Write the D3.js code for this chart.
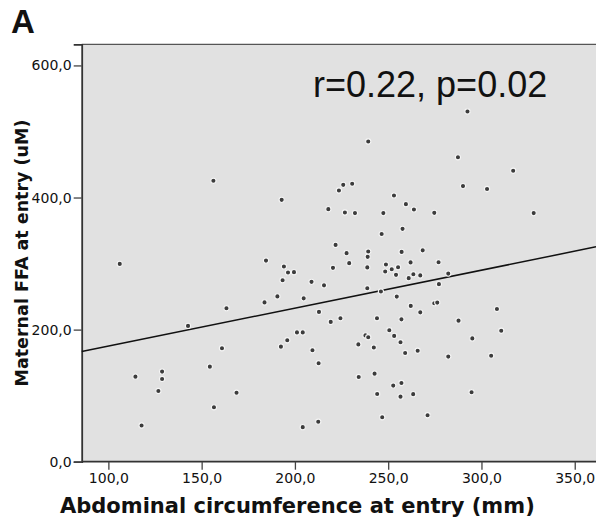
<!DOCTYPE html>
<html>
<head>
<meta charset="utf-8">
<script src="https://cdn.jsdelivr.net/npm/d3@7"></script>
<style>
  html, body { margin: 0; padding: 0; background: #fff; }
  svg { display: block; }
</style>
</head>
<body>
<div id="chart"></div>
<script>
// abdominal circumference (mm) vs maternal FFA (uM)
const acMm = [
  156.3, 192.9, 106.1, 184.5, 190.6, 183.7, 163.3, 142.7, 192.5, 160.9,
  154.4, 128.8, 128.8, 114.5, 126.8, 168.7, 156.6, 117.8, 230.7, 225.9,
  223.6, 217.9, 226.8, 232.2, 221.8, 227.7, 239.3, 239.0, 229.1, 220.4,
  238.8, 194.1, 196.3, 199.5, 193.4, 208.9, 215.6, 238.8, 204.7, 290.1,
  253.1, 259.5, 263.8, 247.4, 274.7, 257.7, 246.5, 257.2, 268.5, 262.0,
  277.0, 248.8, 251.9, 248.4, 255.3, 254.2, 263.5, 267.2, 261.0, 282.2,
  277.2, 254.6, 246.1, 212.9, 224.4, 219.2, 201.1, 204.2, 195.9, 237.8,
  239.3, 234.0, 242.3, 209.4, 212.7, 234.2, 242.7, 244.1, 212.5, 204.2,
  262.1, 274.7, 276.3, 267.2, 257.1, 287.7, 250.6, 253.2, 256.6, 295.1,
  259.1, 265.8, 282.2, 252.7, 257.1, 256.6, 263.4, 294.7, 246.8, 271.1,
  292.5, 239.3, 287.4, 317.0, 303.0, 328.0, 308.3, 310.6, 305.2, 244.0
];
const ffaUm = [
  425.3, 396.5, 299.5, 304.5, 250.3, 241.2, 232.4, 205.6, 174.2, 171.8,
  143.9, 136.4, 125.3, 128.8, 107.1, 104.5, 82.4, 54.8, 420.8, 419.2,
  410.6, 382.4, 377.3, 376.4, 328.3, 315.8, 318.2, 310.2, 300.6, 293.5,
  294.2, 295.5, 286.4, 287.0, 274.8, 272.3, 267.0, 262.7, 247.3, 417.3,
  403.0, 390.0, 381.8, 376.4, 376.8, 352.6, 344.7, 317.7, 320.0, 301.8,
  302.1, 298.5, 291.5, 287.9, 294.5, 282.9, 283.9, 282.1, 277.9, 284.8,
  268.8, 250.0, 257.6, 226.8, 217.3, 211.7, 195.8, 195.8, 183.9, 191.2,
  188.5, 177.6, 173.0, 168.8, 149.1, 128.3, 133.3, 102.6, 60.6, 52.3,
  235.9, 240.0, 240.9, 226.1, 215.5, 213.6, 199.1, 190.5, 180.9, 186.7,
  164.7, 168.0, 159.1, 115.2, 119.2, 98.5, 102.3, 105.2, 67.3, 70.3,
  530.3, 484.8, 460.9, 440.5, 412.9, 376.4, 231.1, 198.3, 160.5, 217.3
];

const xTicks = [100, 150, 200, 250, 300, 350];
const yTicks = [0, 200, 400, 600];
const fitLine = { intercept: 117.5, slope: 0.575 };
const statText = "r=0.22, p=0.02";

const W = 596, H = 521;
const x = d3.scaleLinear().domain([85.7, 361.4]).range([81.7, 596]);
const y = d3.scaleLinear().domain([0, 632]).range([461.7, 44.3]);
const fmt = v => d3.format(".1f")(v).replace(".", ",");

const svg = d3.select("#chart").append("svg").attr("width", W).attr("height", H);

// plot background
svg.append("rect")
  .attr("x", x(85.7)).attr("y", y(632))
  .attr("width", 600 - x(85.7)).attr("height", y(0) - y(632))
  .attr("fill", "#e1e1e1");

// top frame line
svg.append("line")
  .attr("x1", x(85.7)).attr("x2", 600)
  .attr("y1", y(632)).attr("y2", y(632))
  .attr("stroke", "#555").attr("stroke-width", 1.3);

// axes
const xAxis = d3.axisBottom(x).tickValues(xTicks).tickFormat(fmt).tickSize(8).tickPadding(3);
const yAxis = d3.axisLeft(y).tickValues(yTicks).tickFormat(fmt).tickSize(8).tickPadding(2);

const gx = svg.append("g").attr("transform", `translate(0,${y(0)})`).call(xAxis);
const gy = svg.append("g").attr("transform", `translate(${x(85.7)},0)`).call(yAxis);
[gx, gy].forEach(g => {
  g.select(".domain").attr("stroke", "#333").attr("stroke-width", 1.8);
  g.selectAll(".tick line").attr("stroke", "#444").attr("stroke-width", 1.3);
  g.selectAll(".tick text")
    .attr("fill", "#111")
    .style("font-family", "'DejaVu Sans', sans-serif")
    .style("font-size", "14px");
});
gx.select(".domain").attr("d", `M${x(85.7)},0H600`);

// regression line
svg.append("line")
  .attr("x1", x(85.7)).attr("y1", y(fitLine.intercept + fitLine.slope * 85.7))
  .attr("x2", x(361.4)).attr("y2", y(fitLine.intercept + fitLine.slope * 361.4))
  .attr("stroke", "#111").attr("stroke-width", 1.5);

// points
svg.append("g").selectAll("circle")
  .data(acMm.map((v, i) => [v, ffaUm[i]]))
  .join("circle")
  .attr("cx", d => x(d[0])).attr("cy", d => y(d[1]))
  .attr("r", 2.6)
  .attr("fill", "#3c3c3c")
  .attr("stroke", "#f6f6f6").attr("stroke-width", 1.1);

// annotation
svg.append("text")
  .attr("x", 313).attr("y", 97)
  .style("font-family", "'Liberation Sans', Arial, sans-serif")
  .style("font-size", "36px")
  .attr("fill", "#111")
  .text(statText);

// panel letter
svg.append("text")
  .attr("x", 11).attr("y", 33)
  .style("font-family", "'Liberation Sans', Arial, sans-serif")
  .style("font-size", "33px").style("font-weight", "bold")
  .attr("fill", "#111")
  .text("A");

// axis titles
svg.append("text")
  .attr("x", 60).attr("y", 513)
  .style("font-family", "'DejaVu Sans', sans-serif")
  .style("font-size", "21px").style("font-weight", "bold")
  .attr("fill", "#111")
  .text("Abdominal circumference at entry (mm)");

svg.append("text")
  .attr("transform", "translate(28,253) rotate(-90)")
  .attr("text-anchor", "middle")
  .style("font-family", "'DejaVu Sans', sans-serif")
  .style("font-size", "17.5px").style("font-weight", "bold")
  .attr("fill", "#111")
  .text("Maternal FFA at entry (uM)");
</script>
</body>
</html>
